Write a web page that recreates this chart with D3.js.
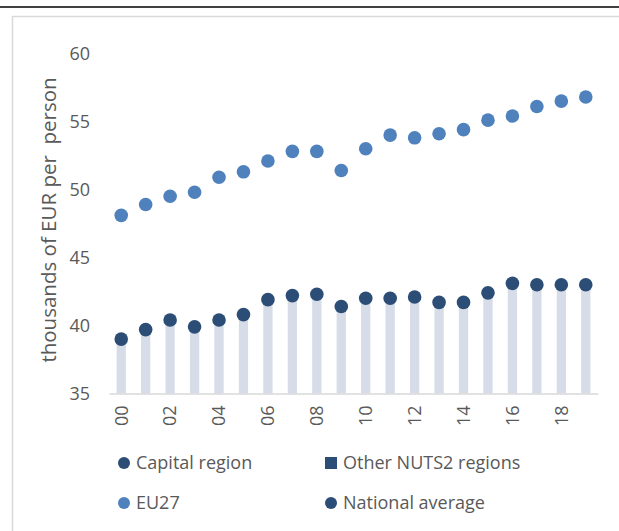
<!DOCTYPE html>
<html>
<head>
<meta charset="utf-8">
<script src="https://cdn.jsdelivr.net/npm/d3@7"></script>
<style>
  body { margin: 0; background: #fff; }
  svg text { font-family: "Open Sans", "Noto Sans", sans-serif; fill: #595959; }
</style>
</head>
<body>
<div id="chart"></div>
<script>
const years = ["00","01","02","03","04","05","06","07","08","09","10","11","12","13","14","15","16","17","18","19"];
const eu27 = [48.1, 48.9, 49.5, 49.8, 50.9, 51.3, 52.1, 52.8, 52.8, 51.4, 53.0, 54.0, 53.8, 54.1, 54.4, 55.1, 55.4, 56.1, 56.5, 56.8];
const nationalAvg = [39.0, 39.7, 40.4, 39.9, 40.4, 40.8, 41.9, 42.2, 42.3, 41.4, 42.0, 42.0, 42.1, 41.7, 41.7, 42.4, 43.1, 43.0, 43.0, 43.0];
const otherRegions = [39.0, 39.7, 40.4, 39.9, 40.4, 40.8, 41.9, 42.2, 42.3, 41.4, 42.0, 42.0, 42.1, 41.7, 41.7, 42.4, 43.1, 43.0, 43.0, 43.0];
const yTicks = [35, 40, 45, 50, 55, 60];

const width = 619, height = 531;

const svg = d3.select("#chart")
  .append("svg")
    .attr("width", width)
    .attr("height", height);

// top rule and chart frame
svg.append("line")
  .attr("x1", 0).attr("x2", width)
  .attr("y1", 7).attr("y2", 7)
  .attr("stroke", "#000").attr("stroke-width", 1.5);

svg.append("path")
  .attr("d", `M12.5,${height} V16.5 H${width}`)
  .attr("fill", "none")
  .attr("stroke", "#d9d9d9")
  .attr("stroke-width", 1.5);

const x = d3.scaleBand()
  .domain(years)
  .range([109, 598])
  .paddingInner(0.62)
  .paddingOuter(0.31);

const y = d3.scaleLinear()
  .domain([35, 60])
  .range([393.5, 53.5]);

const rows = years.map((yr, i) => ({
  year: yr, eu: eu27[i], nat: nationalAvg[i], other: otherRegions[i]
}));

// bars
svg.selectAll("rect.bar")
  .data(rows)
  .join("rect")
    .attr("class", "bar")
    .attr("x", d => x(d.year))
    .attr("y", d => y(d.other))
    .attr("width", x.bandwidth())
    .attr("height", d => y(35) - y(d.other))
    .attr("fill", "#d6dce8");

// x axis
const xAxis = svg.append("g")
  .attr("transform", `translate(0,${y(35)})`)
  .call(d3.axisBottom(x).tickSize(0).tickSizeOuter(0)
    .tickFormat((d, i) => i % 2 === 0 ? d : ""));

xAxis.select(".domain").attr("stroke", "#d9d9d9").attr("stroke-width", 1.5);
xAxis.selectAll("text")
  .attr("font-size", 18)
  .attr("transform", "rotate(-90)")
  .attr("text-anchor", "end")
  .attr("x", -12)
  .attr("y", 0)
  .attr("dy", "0.35em");

// y axis
const yAxis = svg.append("g")
  .attr("transform", "translate(90,0)")
  .call(d3.axisLeft(y).tickValues(yTicks).tickSize(0));
yAxis.select(".domain").remove();
yAxis.selectAll("text")
  .attr("font-size", 18)
  .attr("x", 0);

svg.append("text")
  .attr("transform", `translate(49,220) rotate(-90)`)
  .attr("text-anchor", "middle")
  .attr("dy", "0.35em")
  .attr("font-size", 20.5)
  .style("white-space", "pre")
  .text("thousands of EUR per  person");

// points
svg.selectAll("circle.eu")
  .data(rows)
  .join("circle")
    .attr("class", "eu")
    .attr("cx", d => x(d.year) + x.bandwidth() / 2)
    .attr("cy", d => y(d.eu))
    .attr("r", 6.8)
    .attr("fill", "#4f81bd");

svg.selectAll("circle.nat")
  .data(rows)
  .join("circle")
    .attr("class", "nat")
    .attr("cx", d => x(d.year) + x.bandwidth() / 2)
    .attr("cy", d => y(d.nat))
    .attr("r", 6.8)
    .attr("fill", "#2c4d75");

// legend
const legendItems = [
  { label: "Capital region", shape: "circle", color: "#2c4d75", x: 124, y: 463 },
  { label: "Other NUTS2 regions", shape: "square", color: "#2c4d75", x: 331, y: 463 },
  { label: "EU27", shape: "circle", color: "#4f81bd", x: 124, y: 503 },
  { label: "National average", shape: "circle", color: "#2c4d75", x: 331, y: 503 }
];

const legend = svg.selectAll("g.legend")
  .data(legendItems)
  .join("g")
    .attr("class", "legend")
    .attr("transform", d => `translate(${d.x},${d.y})`);

legend.filter(d => d.shape === "circle")
  .append("circle")
    .attr("r", 6)
    .attr("fill", d => d.color);

legend.filter(d => d.shape === "square")
  .append("rect")
    .attr("x", -6).attr("y", -6)
    .attr("width", 12).attr("height", 12)
    .attr("fill", d => d.color);

legend.append("text")
  .attr("x", 12)
  .attr("dy", "0.35em")
  .attr("font-size", 18)
  .text(d => d.label);
</script>
</body>
</html>
